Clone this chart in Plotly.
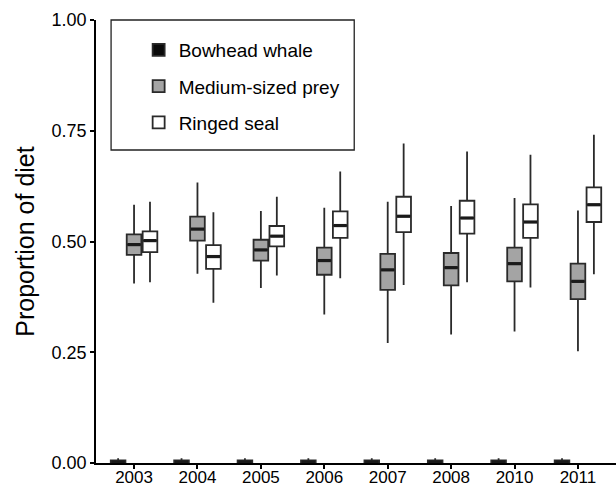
import plotly.graph_objects as go

years = ["2003", "2004", "2005", "2006", "2007", "2008", "2010", "2011"]

# Bowhead whale (near zero)
bw_low = [0.0] * 8
bw_q1 = [0.0] * 8
bw_med = [0.002] * 8
bw_q3 = [0.006] * 8
bw_high = [0.011] * 8

# Medium-sized prey
md_low = [0.405, 0.427, 0.395, 0.335, 0.271, 0.290, 0.297, 0.252]
md_q1 = [0.470, 0.502, 0.457, 0.425, 0.391, 0.401, 0.410, 0.370]
md_med = [0.493, 0.528, 0.481, 0.457, 0.436, 0.441, 0.450, 0.410]
md_q3 = [0.516, 0.556, 0.504, 0.486, 0.472, 0.474, 0.486, 0.450]
md_high = [0.583, 0.633, 0.569, 0.576, 0.590, 0.580, 0.598, 0.570]

# Ringed seal
rs_low = [0.408, 0.362, 0.423, 0.417, 0.402, 0.408, 0.396, 0.426]
rs_q1 = [0.476, 0.438, 0.489, 0.508, 0.521, 0.518, 0.508, 0.544]
rs_med = [0.502, 0.466, 0.512, 0.536, 0.557, 0.553, 0.544, 0.583]
rs_q3 = [0.523, 0.492, 0.535, 0.568, 0.601, 0.592, 0.584, 0.622]
rs_high = [0.590, 0.566, 0.601, 0.658, 0.721, 0.703, 0.696, 0.741]

series = [
    ("Bowhead whale", bw_low, bw_q1, bw_med, bw_q3, bw_high, "#0a0a0a"),
    ("Medium-sized prey", md_low, md_q1, md_med, md_q3, md_high, "#a4a4a4"),
    ("Ringed seal", rs_low, rs_q1, rs_med, rs_q3, rs_high, "#ffffff"),
]

BOXGAP = 0.246
BOXGROUPGAP = 0.08
XRANGE = [-0.6, len(years) - 0.4]

fig = go.Figure()
for k, (name, lo, q1, med, q3, hi, fill) in enumerate(series):
    fig.add_trace(go.Box(
        name=name,
        legendgroup=name,
        x=years,
        lowerfence=lo, q1=q1, median=med, q3=q3, upperfence=hi,
        fillcolor=fill,
        line=dict(color="#2a2a2a", width=1.8),
        whiskerwidth=0,
        boxpoints=False,
    ))

# thicker median bars (ggplot style), positioned from the grouping parameters
slot = (1 - BOXGAP) / len(series)
half = slot * (1 - BOXGROUPGAP) / 2
for k, (name, lo, q1, med, q3, hi, fill) in enumerate(series):
    off = (k - (len(series) - 1) / 2) * slot
    xs, ys = [], []
    for i, m in enumerate(med):
        c = i + off
        xs += [c - half * 0.9, c + half * 0.9, None]
        ys += [m, m, None]
    fig.add_trace(go.Scatter(
        x=xs, y=ys, mode="lines", xaxis="x2",
        line=dict(color="#1a1a1a", width=3.2),
        showlegend=False, hoverinfo="skip",
    ))

# legend frame
fig.add_shape(
    type="rect", xref="paper", yref="paper",
    x0=0.029, x1=0.4966, y0=0.7065, y1=1.0,
    line=dict(color="#222222", width=1.3), fillcolor="white", layer="below",
)

fig.update_layout(
    width=616, height=489,
    margin=dict(l=95.5, r=0, t=20, b=26),
    paper_bgcolor="white", plot_bgcolor="white",
    boxmode="group", boxgap=BOXGAP, boxgroupgap=BOXGROUPGAP,
    font=dict(family="Liberation Sans, Arial, sans-serif", color="black", size=18),
    showlegend=True,
    legend=dict(
        x=0.082, y=0.975, xanchor="left", yanchor="top",
        borderwidth=0, bgcolor="rgba(0,0,0,0)",
        font=dict(size=19, color="black"),
        tracegroupgap=8.5,
    ),
    xaxis=dict(
        type="category", categoryorder="array", categoryarray=years,
        range=XRANGE, automargin=False,
        showline=True, linecolor="black", linewidth=1.5,
        ticks="outside", ticklen=4, tickcolor="black", tickwidth=1.5,
        ticklabelstandoff=-6,
        showgrid=False, zeroline=False,
        tickfont=dict(size=17, color="black"),
    ),
    xaxis2=dict(
        overlaying="x", range=XRANGE, visible=False,
        showgrid=False, zeroline=False,
    ),
    yaxis=dict(
        range=[0, 1], tickvals=[0, 0.25, 0.5, 0.75, 1.0],
        ticktext=["0.00", "0.25", "0.50", "0.75", "1.00"],
        automargin=False,
        showline=True, linecolor="black", linewidth=1.5,
        ticks="outside", ticklen=4, tickcolor="black", tickwidth=1.5,
        showgrid=False, zeroline=False,
        tickfont=dict(size=18, color="black"),
        title=dict(text="Proportion of diet", font=dict(size=25, color="black"), standoff=10),
    ),
)

fig.write_html("out.html")
